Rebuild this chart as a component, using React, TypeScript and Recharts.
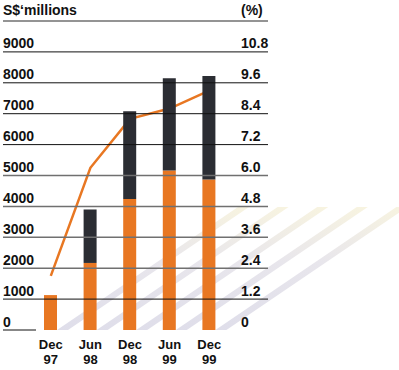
import React from 'react';
import { ComposedChart, Bar, Line, XAxis, YAxis, ReferenceLine } from 'recharts';

const categories = ['Dec 97', 'Jun 98', 'Dec 98', 'Jun 99', 'Dec 99'];
const orangeValues = [1130, 2170, 4240, 5160, 4870];
const darkValues = [0, 1730, 2840, 2990, 3350];
const percentValues = [2.1, 6.3, 8.2, 8.6, 9.3];
const leftTicks = [0, 1000, 2000, 3000, 4000, 5000, 6000, 7000, 8000, 9000];
const rightTickLabels = ['0', '1.2', '2.4', '3.6', '4.8', '6.0', '7.2', '8.4', '9.6', '10.8'];
const gridValues = [1000, 2000, 3000, 4000, 5000, 6000, 7000, 8000, 9000, 10000];

const data = categories.map((c, i) => ({
  name: c,
  orange: orangeValues[i],
  dark: darkValues[i],
  pct: percentValues[i],
}));

const FONT = '"Liberation Sans", Arial, sans-serif';
const ORANGE = '#e87722';
const DARK = '#2b2d33';
const grayLines = new Set([10000, 5000, 4000, 3000, 2000]);

const W = 399;
const H = 370;
const MARGIN = { top: 21, right: 131, left: 3, bottom: 0 };
const XPAD = { left: 28, right: 39 };

const XTick = (props: any) => {
  const { x, payload } = props;
  const [a, b] = String(payload.value).split(' ');
  return (
    <g>
      <text x={x} y={349} fontFamily={FONT} fontWeight="bold" fontSize={13} fill="#111" textAnchor="middle">
        {a}
      </text>
      <text x={x} y={364} fontFamily={FONT} fontWeight="bold" fontSize={13} fill="#111" textAnchor="middle">
        {b}
      </text>
    </g>
  );
};

const makeLabel = (left: string, right: string) => (props: any) => {
  const vb = props.viewBox || {};
  const x = vb.x ?? 0;
  const y = vb.y ?? 0;
  const w = vb.width ?? 0;
  return (
    <g>
      <text x={x} y={y - 3.5} fontFamily={FONT} fontWeight="bold" fontSize={14} fill="#111" textAnchor="start">
        {left}
      </text>
      <text x={x + w - 27} y={y - 3.5} fontFamily={FONT} fontWeight="bold" fontSize={14} fill="#111" textAnchor="start">
        {right}
      </text>
    </g>
  );
};

const ZeroShape = (props: any) => {
  const { x1, y1 } = props;
  return <line x1={x1} y1={y1} x2={x1 + 33} y2={y1} stroke="#111" strokeWidth={1} />;
};

const StripeShape = (props: any) => {
  const { x, y, width, height } = props;
  const xr = x + width;
  const base = y + height;
  const rise = 123;
  const run = 181;
  const pts = `${xr},${base} ${xr + 11},${base} ${xr + 11 + run},${base - rise} ${xr + run},${base - rise}`;
  return (
    <g>
      <defs>
        <linearGradient id="stripeGrad" x1="0" y1="1" x2="1" y2="0">
          <stop offset="0%" stopColor="#dfdeea" />
          <stop offset="55%" stopColor="#e8e6ec" />
          <stop offset="100%" stopColor="#f8f4e0" />
        </linearGradient>
      </defs>
      <polygon points={pts} fill="url(#stripeGrad)" />
    </g>
  );
};

export default function App() {
  return (
    <div style={{ position: 'absolute', left: 0, top: 0, width: W, height: H, background: '#fff' }}>
      {/* bottom layer: decorative stripes and the % line (drawn beneath the bars) */}
      <div style={{ position: 'absolute', left: 0, top: 0 }}>
        <ComposedChart width={W} height={H} data={data} margin={MARGIN} barSize={13}>
          <XAxis dataKey="name" axisLine={false} tickLine={false} height={40} padding={XPAD} tick={false} />
          <YAxis yAxisId="left" hide domain={[0, 10000]} />
          <YAxis yAxisId="right" hide orientation="right" domain={[0, 12]} />
          <Bar yAxisId="left" dataKey="orange" fill={ORANGE} isAnimationActive={false} shape={<StripeShape />} />
          <Line
            yAxisId="right"
            dataKey="pct"
            stroke={ORANGE}
            strokeWidth={2.5}
            dot={false}
            isAnimationActive={false}
            type="linear"
          />
        </ComposedChart>
      </div>
      {/* top layer: bars, grid lines, labels */}
      <div style={{ position: 'absolute', left: 0, top: 0 }}>
        <ComposedChart width={W} height={H} data={data} margin={MARGIN} barSize={13}>
          <XAxis
            dataKey="name"
            axisLine={false}
            tickLine={false}
            height={40}
            padding={XPAD}
            tick={<XTick />}
            interval={0}
          />
          <YAxis yAxisId="left" hide domain={[0, 10000]} />
          <Bar yAxisId="left" dataKey="orange" stackId="a" fill={ORANGE} isAnimationActive={false} />
          <Bar yAxisId="left" dataKey="dark" stackId="a" fill={DARK} isAnimationActive={false} />
          {gridValues.map((v) => (
            <ReferenceLine
              key={v}
              yAxisId="left"
              y={v}
              stroke={grayLines.has(v) ? '#707070' : '#111'}
              strokeWidth={grayLines.has(v) ? 1.5 : 1}
            />
          ))}
          {leftTicks.map((v, i) => (
            <ReferenceLine
              key={'lab' + v}
              yAxisId="left"
              y={v}
              stroke="none"
              label={makeLabel(String(v), rightTickLabels[i])}
            />
          ))}
          <ReferenceLine yAxisId="left" y={0} shape={<ZeroShape />} />
        </ComposedChart>
      </div>
      <div
        style={{
          position: 'absolute',
          left: 3,
          top: 2,
          fontFamily: FONT,
          fontWeight: 'bold',
          fontSize: 14,
          color: '#111',
        }}
      >
        S$‘millions
      </div>
      <div
        style={{
          position: 'absolute',
          left: 241,
          top: 2,
          fontFamily: FONT,
          fontWeight: 'bold',
          fontSize: 14,
          color: '#111',
        }}
      >
        (%)
      </div>
    </div>
  );
}
